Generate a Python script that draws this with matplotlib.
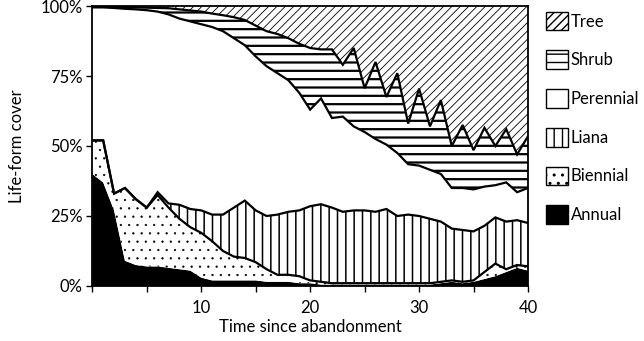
import numpy as np
import matplotlib
matplotlib.use('Agg')
import matplotlib.pyplot as plt
import matplotlib.patches as mpatches

plt.rcParams.update({
    'font.family': ['Lato', 'DejaVu Sans'],
    'font.size': 12,
})

# years since abandonment, cover (%) of each life form, stacked bottom -> top
years = np.arange(0, 41)
annual = [40, 37, 27, 9, 7.5, 7, 7, 6.5, 6, 5.5, 3, 2, 2, 2, 2, 2, 1.5, 1.5, 1.5, 1,
          1, 0.5, 0.5, 0.5, 0.5, 0.5, 0.5, 0.5, 0.5, 0.5, 0.5, 0.5, 1, 1.5, 1, 1.5,
          2.5, 3.5, 5, 6.5, 5.5]
biennial = [12, 15, 6, 26, 23.5, 21, 25.5, 21.5, 18, 15.5, 16, 14, 10.5, 8.5, 8, 6.5,
            4.5, 2.5, 2.5, 2.5, 1, 1, 0.5, 0.5, 0.5, 0.5, 0.5, 0.5, 0.5, 0.5, 0.5,
            0.5, 0.5, 0.5, 0.5, 0.5, 2.5, 4.5, 1, 1, 1.5]
liana = [0, 0, 0, 0, 0, 0, 1, 1.5, 5, 6.5, 8, 9.5, 13, 17.5, 20.5, 18.5, 19, 21.5,
         22.5, 23.5, 26.5, 27.7, 27, 25.5, 26, 26, 25.5, 26.5, 24, 24.5, 24, 23,
         21.5, 18.5, 18.5, 17.5, 16.5, 16.5, 17, 16, 15.5]
perennial = [47.5, 47.5, 66.3, 64, 67.8, 70.5, 64.5, 67.5, 66.5, 67, 66.5, 67, 65.5,
             60.5, 55.5, 55, 53.5, 50.5, 47, 42, 34.5, 37.8, 32, 34, 30, 28, 26, 23,
             22.5, 18, 18, 17.5, 17, 14.5, 15, 15, 14, 11.5, 14, 10, 12.5]
shrub = [0.5, 0.3, 0.4, 0.6, 0.7, 0.9, 1.3, 2.2, 3.3, 3.9, 4.5, 4.8, 5.7, 7.5, 9, 11,
         12.5, 14, 15, 17.5, 22, 17.5, 24.5, 18.5, 28, 15.6, 27.5, 17, 28.5, 14.5,
         27.5, 15.5, 26.4, 15, 22.5, 14, 21, 14, 19, 13.5, 18.5]
tree = [0, 0.2, 0.3, 0.4, 0.5, 0.6, 0.7, 0.8, 1.2, 1.6, 2, 2.7, 3.3, 4, 5, 7, 9, 10,
        11.5, 13.5, 15, 15.5, 15.5, 21, 15, 29.4, 20, 32.5, 24, 42, 29.5, 43, 33.6,
        50, 42.5, 51.5, 43.5, 50, 44, 53, 46.5]

labels = ['Annual', 'Biennial', 'Liana', 'Perennial', 'Shrub', 'Tree']
series = [annual, biennial, liana, perennial, shrub, tree]
# face colour, hatch, hatch line width
styles = [('black', '', 1.0),
          ('white', '..', 0.4),
          ('white', '||', 1.1),
          ('white', '', 1.0),
          ('white', '--', 1.6),
          ('white', '////', 0.6)]


def make_patch(face, hatch, hlw):
    with plt.rc_context({'hatch.linewidth': hlw}):
        p = mpatches.Patch(facecolor=face, edgecolor='black', hatch=hatch, linewidth=1.0)
    if hasattr(p, 'set_hatch_linewidth'):
        p.set_hatch_linewidth(hlw)
    return p


fig = plt.figure(figsize=(6.44, 3.41), dpi=100)
ax = fig.add_axes([0.1433, 0.1613, 0.8199 - 0.1433, 0.9824 - 0.1613])

tops = np.cumsum(np.array(series, dtype=float), axis=0)
bottom = np.zeros(len(years))
for i, (face, hatch, hlw) in enumerate(styles):
    with plt.rc_context({'hatch.linewidth': hlw}):
        pc = ax.fill_between(years, bottom, tops[i], facecolor=face, edgecolor='black',
                             hatch=hatch, linewidth=0)
    if hasattr(pc, 'set_hatch_linewidth'):
        pc.set_hatch_linewidth(hlw)
    bottom = tops[i]

# boundary lines
for i in range(1, 5):
    ax.plot(years, tops[i], color='black', lw=1.6, solid_joinstyle='miter')

ax.set_xlim(0, 40)
ax.set_ylim(0, 100)
ax.set_xticks(np.arange(0, 41, 5))
ax.set_xticklabels(['' if v % 10 or v == 0 else str(v) for v in range(0, 41, 5)])
ax.set_yticks([0, 25, 50, 75, 100])
ax.set_yticklabels(['0%', '25%', '50%', '75%', '100%'])
ax.tick_params(direction='out', length=4, width=1)
ax.tick_params(axis='x', pad=6)
ax.tick_params(axis='y', pad=3)
for s in ax.spines.values():
    s.set_linewidth(1.3)
ax.set_xlabel('Time since abandonment', labelpad=2)
ax.set_ylabel('Life-form cover', labelpad=11)

handles = [make_patch(*styles[i]) for i in range(5, -1, -1)]
fig.legend(handles, labels[::-1], loc='upper left', bbox_to_anchor=(0.833, 0.995),
           frameon=False, handlelength=1.3, handleheight=1.35, handletextpad=0.15,
           labelspacing=1.2, borderaxespad=0.2, fontsize=12)

fig.savefig('out.png', dpi=100)
